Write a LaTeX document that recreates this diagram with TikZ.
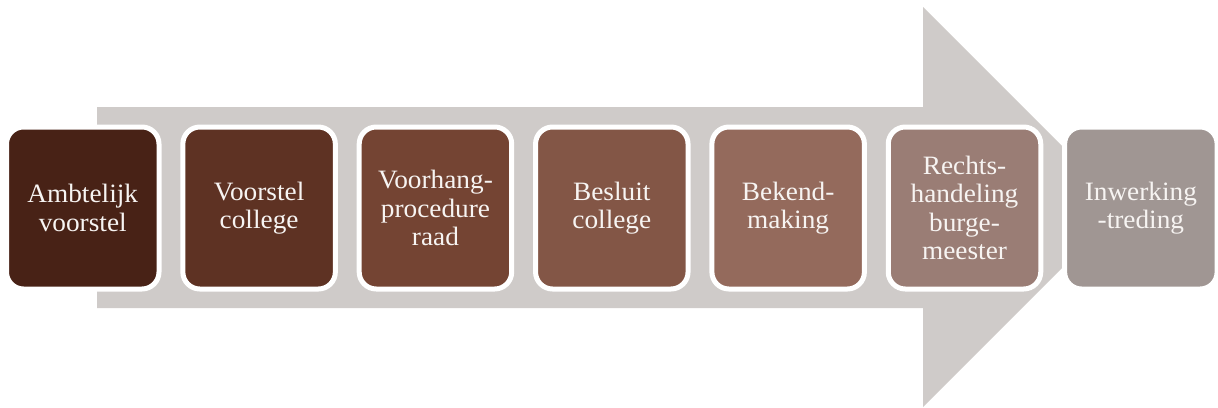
\documentclass[tikz,border=0pt]{standalone}
\usepackage{fontspec}
\setmainfont{Liberation Serif}[FakeStretch=1.03]
\definecolor{arrowgrey}{HTML}{CFCBC9}
\definecolor{cA}{HTML}{482216}
\definecolor{cB}{HTML}{5E3223}
\definecolor{cC}{HTML}{744433}
\definecolor{cD}{HTML}{835646}
\definecolor{cE}{HTML}{946A5C}
\definecolor{cF}{HTML}{9A7D75}
\definecolor{cG}{HTML}{A09693}
\definecolor{txt}{HTML}{F7F4F2}
\tikzset{
  stepbox/.style={rectangle, rounded corners=17pt, draw=white, line width=5pt,
    minimum width=152.5pt, minimum height=162pt, inner sep=0pt, align=center,
    text=txt, font=\fontsize{26.5}{28.3}\selectfont}
}
\begin{document}
\begin{tikzpicture}[x=1pt,y=-1pt]
\useasboundingbox (0,0) rectangle (1218,407);
\fill[arrowgrey] (97,107) -- (923,107) -- (923,7) -- (1123,207) -- (923,407) -- (923,308) -- (97,308) -- cycle;
\node[stepbox, fill=cA] (s1) at (82.75,208) {Ambtelijk\\voorstel};
\node[stepbox, fill=cB] (s2) at (259.1,208) {Voorstel\\college};
\node[stepbox, fill=cC] (s3) at (435.45,208) {Voorhang-\\procedure\\raad};
\node[stepbox, fill=cD] (s4) at (611.8,208) {Besluit\\college};
\node[stepbox, fill=cE] (s5) at (788.15,208) {Bekend-\\making};
\node[stepbox, fill=cF] (s6) at (964.5,208) {Rechts-\\handeling\\burge-\\meester};
\node[stepbox, fill=cG] (s7) at (1140.85,208) {Inwerking\\-treding};
\end{tikzpicture}
\end{document}
